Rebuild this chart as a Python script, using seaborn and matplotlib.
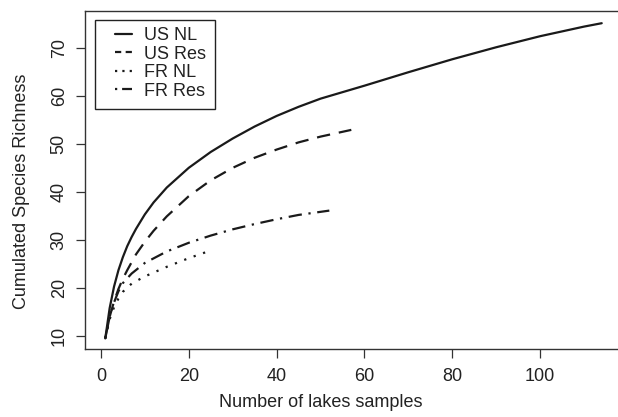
import numpy as np
import pandas as pd
import matplotlib
matplotlib.use("Agg")
import matplotlib.pyplot as plt
import seaborn as sns
from matplotlib.lines import Line2D
from matplotlib.patches import Rectangle

# ---- data ----
us_nl_n = [1, 2, 3, 4, 5, 6, 7, 8, 10, 12, 15, 20, 25, 30, 35, 40, 45, 50, 60, 70, 80, 90, 100, 110, 114]
us_nl_s = [9.5, 15.8, 20.3, 23.7, 26.4, 28.7, 30.6, 32.3, 35.3, 37.8, 40.9, 45.0, 48.3, 51.1, 53.6,
           55.8, 57.7, 59.4, 62.1, 64.9, 67.6, 70.1, 72.4, 74.4, 75.1]

us_res_n = [1, 2, 3, 4, 5, 6, 8, 10, 12, 15, 20, 25, 30, 35, 40, 45, 50, 55, 57]
us_res_s = [9.5, 14.0, 17.2, 19.8, 21.9, 23.7, 27.0, 29.6, 31.9, 34.9, 39.1, 42.4, 45.0, 47.1,
            48.8, 50.3, 51.5, 52.5, 52.9]

fr_nl_n = [1, 2, 3, 4, 5, 7, 10, 15, 20, 25]
fr_nl_s = [9.5, 13.5, 16.0, 17.8, 19.2, 20.9, 22.4, 24.4, 26.2, 27.8]

fr_res_n = [1, 2, 3, 4, 5, 7, 10, 15, 20, 25, 30, 35, 40, 45, 52]
fr_res_s = [9.5, 14.0, 17.0, 19.3, 21.0, 23.0, 25.2, 27.6, 29.4, 30.9, 32.2, 33.3, 34.3, 35.2, 36.1]

series_names = ["US NL", "US Res", "FR NL", "FR Res"]
x_ticks = [0, 20, 40, 60, 80, 100]
y_ticks = [10, 20, 30, 40, 50, 60, 70]

frames = []
for name, n, s in zip(series_names,
                      [us_nl_n, us_res_n, fr_nl_n, fr_res_n],
                      [us_nl_s, us_res_s, fr_nl_s, fr_res_s]):
    frames.append(pd.DataFrame({"n": n, "S": s, "series": name}))
df = pd.concat(frames, ignore_index=True)

# ---- style ----
sns.set_style("white")
plt.rcParams["font.family"] = ["Liberation Sans", "DejaVu Sans"]
TXT = "#222222"
LINE = "#1a1a1a"
FS = 13
LW = 1.6

dash_map = {"US NL": "", "US Res": (6, 4), "FR NL": (1, 3.5), "FR Res": (1, 3, 6, 3)}

fig = plt.figure(figsize=(6.18, 4.17), dpi=100)
ax = fig.add_axes([0.1382, 0.1631, 0.8676, 0.8112])

sns.lineplot(data=df, x="n", y="S", style="series", style_order=series_names,
             dashes=dash_map, color=LINE, linewidth=LW, estimator=None,
             legend=False, ax=ax)

ax.set_xlim(-3.52, 118.52)
ax.set_ylim(7.3, 77.7)
ax.set_xticks(x_ticks)
ax.set_yticks(y_ticks)
ax.set_xticklabels([str(v) for v in x_ticks])
ax.set_yticklabels([str(v) for v in y_ticks], rotation=90, va="center")

for sp in ax.spines.values():
    sp.set_visible(True)
    sp.set_color("#333333")
    sp.set_linewidth(1.0)

ax.tick_params(axis="both", which="major", bottom=True, left=True, top=False, right=False,
               direction="out", length=6.8, width=0.9, color="#333333",
               labelsize=FS, labelcolor=TXT)
ax.tick_params(axis="x", pad=7)
ax.tick_params(axis="y", pad=6)

ax.set_xlabel("Number of lakes samples", fontsize=FS, color=TXT, va="center")
ax.set_ylabel("Cumulated Species Richness", fontsize=FS, color=TXT, va="center")
ax.xaxis.set_label_coords(0.439, -0.1596)
ax.yaxis.set_label_coords(-0.1201, 0.465)

# legend frame
ax.add_patch(Rectangle((0.0170, 0.7085), 0.2247, 0.264, transform=ax.transAxes,
                       facecolor="white", edgecolor="#222222", linewidth=1.0, zorder=3))

handles = [
    Line2D([], [], color=LINE, lw=LW, linestyle="-"),
    Line2D([], [], color=LINE, lw=LW, linestyle=(0, (2.8, 2.0))),
    Line2D([], [], color=LINE, lw=LW, linestyle=(0, (1, 2.3))),
    Line2D([], [], color=LINE, lw=LW, linestyle=(0, (1, 2.2, 4.5, 2.2))),
]
leg = ax.legend(handles, series_names, loc="center left",
                bbox_to_anchor=(0.0552, 0.8444), frameon=False, fontsize=FS,
                borderpad=0, borderaxespad=0, handlelength=0.925, handletextpad=0.70,
                labelspacing=0.08, labelcolor=TXT)
leg.set_zorder(4)

fig.savefig("out.png", dpi=100)
